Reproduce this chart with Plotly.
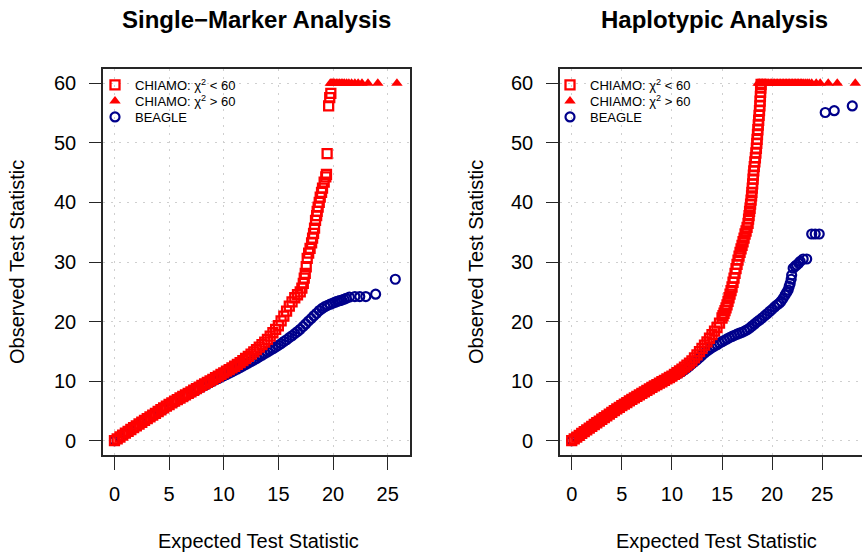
import plotly.graph_objects as go

# ---------------- Data ----------------
# Single-Marker Analysis panel
sm_chiamo_lo_x = [0.00, 0.25, 0.50, 0.75, 1.00, 1.25, 1.50, 1.75, 2.00, 2.25, 2.50, 2.75, 3.00, 3.25, 3.50, 3.75,
                  4.00, 4.25, 4.50, 4.75, 5.00, 5.25, 5.50, 5.75, 6.00, 6.25, 6.50, 6.75, 7.00, 7.25, 7.50, 7.75,
                  8.00, 8.25, 8.50, 8.75, 9.00, 9.25, 9.50, 9.75, 10.00, 10.25, 10.50, 10.75, 11.00, 11.25, 11.50,
                  11.75, 12.00, 12.25, 12.50, 12.75, 13.00, 13.25, 13.50, 13.75, 14.00, 14.25, 14.50, 14.75, 15.00,
                  15.25, 15.50, 15.75, 16.00, 16.25, 16.50, 16.75, 17.00, 17.15, 17.28, 17.37, 17.46, 17.55, 17.64,
                  17.77, 17.90, 18.04, 18.13, 18.22, 18.31, 18.40, 18.50, 18.55, 18.64, 18.74, 18.83, 18.95, 19.04,
                  19.19, 19.34, 19.40, 19.46, 19.60, 19.70, 19.80]
sm_chiamo_lo_y = [0.00, 0.30, 0.62, 0.95, 1.28, 1.58, 1.88, 2.19, 2.50, 2.80, 3.10, 3.40, 3.70, 4.00, 4.30, 4.60,
                  4.90, 5.20, 5.50, 5.80, 6.08, 6.36, 6.63, 6.90, 7.17, 7.42, 7.68, 7.94, 8.20, 8.47, 8.74, 9.01,
                  9.28, 9.54, 9.80, 10.05, 10.31, 10.58, 10.85, 11.12, 11.40, 11.67, 11.94, 12.22, 12.50, 12.81,
                  13.12, 13.45, 13.80, 14.16, 14.52, 14.90, 15.30, 15.70, 16.12, 16.55, 17.00, 17.55, 18.12, 18.70,
                  19.30, 20.10, 20.90, 21.75, 22.60, 23.30, 24.00, 24.50, 25.00, 25.60, 26.40, 27.30, 28.10, 29.20,
                  30.60, 31.50, 32.30, 33.20, 34.00, 34.80, 35.70, 37.00, 37.80, 38.50, 39.20, 40.00, 40.90, 41.70,
                  42.40, 43.40, 44.30, 44.70, 48.20, 56.20, 57.60, 58.30]
sm_chiamo_hi_x = [19.75, 19.85, 19.95, 20.05, 20.15, 20.30, 20.45, 20.60, 20.75, 20.90, 21.05, 21.25, 21.45,
                  21.70, 22.00, 22.30, 22.65, 23.20, 24.10, 25.85]
sm_chiamo_hi_y = [60.0] * 20
sm_beagle_x = [0.0, 0.5, 1.0, 1.5, 2.0, 2.5, 3.0, 3.5, 4.0, 4.5, 5.0, 5.5, 6.0, 6.5, 7.0, 7.5, 8.0, 8.25, 8.5,
               8.75, 9.0, 9.25, 9.5, 9.75, 10.0, 10.25, 10.5, 10.75, 11.0, 11.25, 11.5, 11.75, 12.0, 12.25, 12.5,
               12.75, 13.0, 13.25, 13.5, 13.75, 14.0, 14.25, 14.5, 14.75, 15.0, 15.25, 15.5, 15.75, 16.0, 16.25,
               16.5, 16.75, 17.0, 17.25, 17.5, 17.75, 18.0, 18.25, 18.5, 18.75, 19.0, 19.25, 19.5, 19.75, 20.0,
               20.2, 20.4, 20.6, 20.8, 21.0, 21.2, 21.5, 22.0, 22.45, 23.0, 23.9, 25.7]
sm_beagle_y = [0.00, 0.58, 1.18, 1.78, 2.38, 2.98, 3.58, 4.18, 4.76, 5.33, 5.90, 6.45, 7.00, 7.50, 8.00, 8.50,
               9.00, 9.25, 9.50, 9.75, 10.00, 10.22, 10.45, 10.68, 10.90, 11.12, 11.35, 11.57, 11.80, 12.05, 12.30,
               12.55, 12.80, 13.05, 13.30, 13.55, 13.80, 14.08, 14.35, 14.62, 14.90, 15.18, 15.45, 15.72, 16.00,
               16.30, 16.65, 16.95, 17.30, 17.62, 17.98, 18.32, 18.70, 19.15, 19.60, 20.08, 20.50, 20.98, 21.40,
               21.85, 22.20, 22.50, 22.72, 22.92, 23.10, 23.25, 23.40, 23.50, 23.60, 23.75, 23.90, 24.10, 24.20,
               24.20, 24.20, 24.60, 27.10]

# Haplotypic Analysis panel
hap_chiamo_lo_x = [0.00, 0.25, 0.50, 0.75, 1.00, 1.25, 1.50, 1.75, 2.00, 2.25, 2.50, 2.75, 3.00, 3.25, 3.50, 3.75,
                   4.00, 4.25, 4.50, 4.75, 5.00, 5.25, 5.50, 5.75, 6.00, 6.25, 6.50, 6.75, 7.00, 7.25, 7.50, 7.75,
                   8.00, 8.25, 8.50, 8.75, 9.00, 9.25, 9.50, 9.75, 10.00, 10.25, 10.50, 10.75, 11.00, 11.25, 11.50,
                   11.75, 12.00, 12.25, 12.50, 12.75, 13.00, 13.25, 13.50, 13.75, 14.00, 14.25, 14.50, 14.75, 15.00,
                   15.10, 15.20, 15.30, 15.40, 15.50, 15.60, 15.70, 15.80, 15.90, 16.00, 16.10, 16.20, 16.30, 16.40,
                   16.50, 16.60, 16.70, 16.80, 16.90, 17.00, 17.10, 17.20, 17.30, 17.40, 17.50, 17.60, 17.65, 17.70,
                   17.75, 17.80, 17.85, 17.90, 17.95, 17.98, 18.02, 18.06, 18.10, 18.13, 18.17, 18.22, 18.28, 18.33,
                   18.38, 18.43, 18.47, 18.50, 18.54, 18.58, 18.62, 18.66, 18.70, 18.74, 18.78, 18.80, 18.83, 18.85,
                   18.87, 18.90]
hap_chiamo_lo_y = [0.00, 0.30, 0.60, 0.91, 1.22, 1.52, 1.82, 2.12, 2.42, 2.72, 3.01, 3.30, 3.60, 3.89, 4.18, 4.46,
                   4.75, 5.04, 5.33, 5.61, 5.90, 6.15, 6.40, 6.68, 6.95, 7.20, 7.45, 7.70, 7.95, 8.20, 8.45, 8.70,
                   8.95, 9.19, 9.43, 9.66, 9.90, 10.14, 10.38, 10.61, 10.85, 11.13, 11.41, 11.70, 12.00, 12.34, 12.68,
                   13.04, 13.40, 13.90, 14.40, 14.95, 15.50, 16.05, 16.60, 17.20, 17.80, 18.40, 19.00, 19.75, 20.60,
                   21.00, 21.40, 21.85, 22.30, 22.80, 23.40, 24.00, 24.60, 25.20, 25.80, 26.60, 27.30, 28.10, 28.90,
                   29.60, 30.30, 31.00, 31.60, 32.20, 32.80, 33.40, 34.00, 34.70, 35.20, 35.80, 36.50, 37.20, 37.80,
                   38.50, 39.00, 39.70, 40.40, 41.10, 41.70, 42.40, 43.10, 43.90, 44.60, 45.30, 46.00, 46.80, 47.50,
                   48.30, 49.10, 49.90, 50.60, 51.40, 52.20, 53.00, 53.80, 54.60, 55.40, 56.20, 57.00, 57.80, 58.50,
                   59.20, 59.80]
hap_chiamo_hi_x = [18.60, 18.75, 18.90, 19.05, 19.20, 19.35, 19.50, 19.65, 19.80, 19.95, 20.10, 20.25, 20.40,
                   20.55, 20.70, 20.85, 21.00, 21.15, 21.30, 21.45, 21.60, 21.75, 21.90, 22.05, 22.20, 22.35, 22.50,
                   22.65, 22.80, 22.95, 23.10, 23.30, 23.50, 23.70, 23.95, 24.40, 24.80, 25.60, 26.50, 28.30]
hap_chiamo_hi_y = [60.0] * 40
hap_beagle_x = [0.0, 0.5, 1.0, 1.5, 2.0, 2.5, 3.0, 3.5, 4.0, 4.5, 5.0, 5.5, 6.0, 6.5, 7.0, 7.5, 8.0, 8.25, 8.5,
                8.75, 9.0, 9.25, 9.5, 9.75, 10.0, 10.25, 10.5, 10.75, 11.0, 11.25, 11.5, 11.75, 12.0, 12.25, 12.5,
                12.75, 13.0, 13.25, 13.5, 13.75, 14.0, 14.25, 14.5, 14.75, 15.0, 15.25, 15.5, 15.75, 16.0, 16.25,
                16.5, 16.75, 17.0, 17.25, 17.5, 17.75, 18.0, 18.25, 18.5, 18.75, 19.0, 19.25, 19.5, 19.75, 20.0,
                20.25, 20.5, 20.7, 20.9, 21.1, 21.3, 21.45, 21.6, 21.7, 21.8, 21.9, 21.95, 22.1, 22.3, 22.45, 22.65,
                22.8, 23.1, 23.45, 23.95, 24.3, 24.7, 25.3, 26.2, 28.0]
hap_beagle_y = [0.00, 0.57, 1.15, 1.73, 2.32, 2.90, 3.48, 4.05, 4.62, 5.19, 5.75, 6.29, 6.82, 7.34, 7.85, 8.35,
                8.85, 9.09, 9.33, 9.57, 9.80, 10.02, 10.25, 10.48, 10.70, 10.93, 11.16, 11.38, 11.62, 11.90, 12.20,
                12.55, 12.90, 13.25, 13.60, 13.95, 14.35, 14.72, 15.05, 15.35, 15.62, 15.88, 16.12, 16.38, 16.62,
                16.85, 17.08, 17.30, 17.50, 17.70, 17.88, 18.05, 18.20, 18.40, 18.62, 18.90, 19.25, 19.60, 19.95,
                20.25, 20.60, 20.95, 21.30, 21.70, 22.05, 22.45, 22.80, 23.05, 23.40, 23.90, 24.45, 24.90, 25.30,
                25.90, 26.40, 27.10, 27.80, 28.95, 29.30, 29.50, 29.80, 30.10, 30.50, 30.50, 34.70, 34.70, 34.70,
                55.10, 55.40, 56.20]

panel_titles = ["Single\u2212Marker Analysis", "Haplotypic Analysis"]
x_title = "Expected Test Statistic"
y_title = "Observed Test Statistic"
legend_names = ["CHIAMO: \u03c7<sup>2</sup> &lt; 60", "CHIAMO: \u03c7<sup>2</sup> &gt; 60", "BEAGLE"]
x_ticks = [0, 5, 10, 15, 20, 25]
y_ticks = [0, 10, 20, 30, 40, 50, 60]

# ---------------- Styling ----------------
W, H = 862, 554
FONT = "Liberation Sans, Arial, Helvetica, sans-serif"
RED = "#FF0000"
BLUE = "#00008B"
FRAME = "#262626"
TXT = "#000000"


def px_x(p):
    return p / W


def px_y(p):
    return 1 - p / H


fig = go.Figure()

panels = [
    dict(lo=(sm_chiamo_lo_x, sm_chiamo_lo_y), hi=(sm_chiamo_hi_x, sm_chiamo_hi_y),
         be=(sm_beagle_x, sm_beagle_y), xa="x", ya="y", legs=("legend", "legend2", "legend3")),
    dict(lo=(hap_chiamo_lo_x, hap_chiamo_lo_y), hi=(hap_chiamo_hi_x, hap_chiamo_hi_y),
         be=(hap_beagle_x, hap_beagle_y), xa="x2", ya="y2", legs=("legend4", "legend5", "legend6")),
]

for p in panels:
    fig.add_trace(go.Scatter(x=p["be"][0], y=p["be"][1], mode="markers", name=legend_names[2],
                             xaxis=p["xa"], yaxis=p["ya"], legend=p["legs"][2],
                             marker=dict(symbol="circle-open", size=9, color=BLUE,
                                         line=dict(width=2.2, color=BLUE))))
    fig.add_trace(go.Scatter(x=p["lo"][0], y=p["lo"][1], mode="markers", name=legend_names[0],
                             xaxis=p["xa"], yaxis=p["ya"], legend=p["legs"][0],
                             marker=dict(symbol="square-open", size=9, color=RED,
                                         line=dict(width=2.3, color=RED))))
    fig.add_trace(go.Scatter(x=p["hi"][0], y=p["hi"][1], mode="markers", name=legend_names[1],
                             xaxis=p["xa"], yaxis=p["ya"], legend=p["legs"][1],
                             marker=dict(symbol="triangle-up", size=10, color=RED, line=dict(width=0))))

axis_common = dict(showgrid=True, gridcolor="#cfcfcf", griddash="2px,6px", gridwidth=1, zeroline=False,
                   showline=True, linecolor=FRAME, linewidth=1.6, ticks="outside", tickcolor=FRAME,
                   tickwidth=1.3, tickfont=dict(family=FONT, size=20, color=TXT))

left_dom = [px_x(103), px_x(409.5)]
right_dom = [px_x(560), 1.0]
y_dom = [px_y(455), px_y(69)]

layout = dict(
    width=W, height=H, margin=dict(l=0, r=0, t=0, b=0),
    paper_bgcolor="white", plot_bgcolor="white",
    font=dict(family=FONT, color=TXT),
    xaxis=dict(domain=left_dom, range=[-1.05, 27.0], tickvals=x_ticks, anchor="y", mirror=True,
               ticklen=13, ticklabelstandoff=7, **axis_common),
    yaxis=dict(domain=y_dom, range=[-2.4, 62.4], tickvals=y_ticks, anchor="x", mirror=True,
               ticklen=12, ticklabelstandoff=9, **axis_common),
    xaxis2=dict(domain=right_dom, range=[-1.17, 28.97], tickvals=x_ticks, anchor="y2", mirror=True,
                ticklen=13, ticklabelstandoff=7, **axis_common),
    yaxis2=dict(domain=y_dom, range=[-2.4, 62.4], tickvals=y_ticks, anchor="x2", mirror=False,
                ticklen=12, ticklabelstandoff=9, **axis_common),
    showlegend=True,
)

# one single-entry legend per row so the rows sit at the reference spacing
row_y = [85, 101, 117]
leg_left = [95, 550]
for pi, p in enumerate(panels):
    for ri, lname in enumerate(p["legs"]):
        layout[lname] = dict(x=px_x(leg_left[pi]), y=px_y(row_y[ri]), xanchor="left", yanchor="middle",
                             bgcolor="rgba(0,0,0,0)", borderwidth=0, itemwidth=30,
                             font=dict(family=FONT, size=13, color=TXT))

fig.update_layout(**layout)

annotations = [
    dict(text="<b>%s</b>" % panel_titles[0], x=px_x(256), y=px_y(20), font=dict(size=24, family=FONT, color=TXT)),
    dict(text="<b>%s</b>" % panel_titles[1], x=px_x(714), y=px_y(20), font=dict(size=24, family=FONT, color=TXT)),
    dict(text=x_title, x=px_x(258), y=px_y(541), font=dict(size=20, family=FONT, color=TXT)),
    dict(text=x_title, x=px_x(716), y=px_y(541), font=dict(size=20, family=FONT, color=TXT)),
    dict(text=y_title, x=px_x(17), y=px_y(262), textangle=-90, font=dict(size=20, family=FONT, color=TXT)),
    dict(text=y_title, x=px_x(476), y=px_y(262), textangle=-90, font=dict(size=20, family=FONT, color=TXT)),
]
for a in annotations:
    a.update(xref="paper", yref="paper", xanchor="center", yanchor="middle", showarrow=False)
fig.update_layout(annotations=annotations)

fig.write_html("out.html")
